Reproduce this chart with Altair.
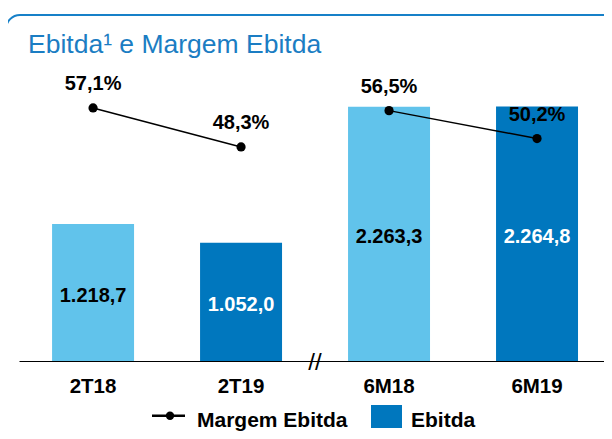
import altair as alt
import pandas as pd

FONT = "Liberation Sans"

# ---- data -------------------------------------------------------------
categorias = ["2T18", "2T19", "6M18", "6M19"]
ebitda = [1218.7, 1052.0, 2263.3, 2264.8]
ebitda_rotulos = ["1.218,7", "1.052,0", "2.263,3", "2.264,8"]
margem = [57.1, 48.3, 56.5, 50.2]
margem_rotulos = ["57,1%", "48,3%", "56,5%", "50,2%"]
anos = ["2018", "2019", "2018", "2019"]
grupos = ["trimestre", "trimestre", "semestre", "semestre"]
titulo = "Ebitda\u00b9 e Margem Ebitda"
legenda = ["Margem Ebitda", "Ebitda"]

cores_barras = ["#61C3EB", "#0077BE"]
cores_rotulo = {"2018": "#000000", "2019": "#FFFFFF"}

df = pd.DataFrame({
    "categoria": categorias,
    "ebitda": ebitda,
    "ebitda_rotulo": ebitda_rotulos,
    "margem": margem,
    "margem_rotulo": margem_rotulos,
    "ano": anos,
    "grupo": grupos,
})
df["cor_rotulo"] = df["ano"].map(cores_rotulo)

um = pd.DataFrame({"k": [0]})

# ---- encodings --------------------------------------------------------
x_enc = alt.X(
    "categoria:N",
    sort=categorias,
    scale=alt.Scale(paddingInner=0.446, paddingOuter=0.1995, align=0.56),
    axis=alt.Axis(
        title=None, labelAngle=0, labelFont=FONT, labelFontSize=20.5,
        labelFontWeight="bold", labelColor="#000000", domainColor="#000000",
        domainWidth=1.2, ticks=False, labelPadding=15, grid=False,
    ),
)
esc_barra = alt.Scale(domain=[0, 2671], nice=False, zero=True)
esc_linha = alt.Scale(domain=[0, 67.7], nice=False, zero=True)

base = alt.Chart(df)

barras = base.mark_bar().encode(
    x=x_enc,
    y=alt.Y("ebitda:Q", scale=esc_barra, axis=None),
    color=alt.Color("ano:N", scale=alt.Scale(domain=["2018", "2019"], range=cores_barras), legend=None),
)

rot_barras = base.transform_calculate(meio="datum.ebitda / 2").mark_text(
    font=FONT, fontSize=20, fontWeight="bold", baseline="middle", dy=3.5
).encode(
    x=x_enc,
    y=alt.Y("meio:Q", scale=esc_barra, axis=None),
    text="ebitda_rotulo:N",
    color=alt.Color("cor_rotulo:N", scale=None),
)

linha = base.mark_line(color="#000000", strokeWidth=1.5).encode(
    x=x_enc,
    y=alt.Y("margem:Q", scale=esc_linha, axis=None),
    detail="grupo:N",
)

pontos = base.mark_point(filled=True, size=85, color="#000000", opacity=1).encode(
    x=x_enc,
    y=alt.Y("margem:Q", scale=esc_linha, axis=None),
)

rot_margem = base.mark_text(
    font=FONT, fontSize=20, fontWeight="bold", baseline="middle", dy=-24, color="#000000"
).encode(
    x=x_enc,
    y=alt.Y("margem:Q", scale=esc_linha, axis=None),
    text="margem_rotulo:N",
)

# ---- decorations (frame, title, axis break, legend) -------------------
borda = alt.Chart(um).mark_rect(
    cornerRadius=14, fillOpacity=0, strokeWidth=2,
    stroke=alt.Gradient(
        gradient="linear", x1=0, x2=0, y1=0, y2=1,
        stops=[
            alt.GradientStop(offset=0, color="#1680C8"),
            alt.GradientStop(offset=0.35, color="#38B3E8"),
            alt.GradientStop(offset=1, color="#3FDBBF"),
        ],
    ),
).encode(x=alt.value(-13), x2=alt.value(610), y=alt.value(-46), y2=alt.value(380))

titulo_txt = alt.Chart(um).mark_text(
    font=FONT, fontSize=26.5, align="left", baseline="alphabetic", color="#1B7DC3"
).encode(x=alt.value(9), y=alt.value(-8), text=alt.value(titulo))

quebra = alt.Chart(um).mark_text(
    font=FONT, fontSize=24, align="center", baseline="middle", color="#000000"
).encode(x=alt.value(296), y=alt.value(302), text=alt.value("//"))

leg_linha = alt.Chart(um).mark_rule(color="#000000", strokeWidth=2.6).encode(
    x=alt.value(133), x2=alt.value(166), y=alt.value(354.7)
)
leg_ponto = alt.Chart(um).mark_point(filled=True, size=70, color="#000000", opacity=1).encode(
    x=alt.value(151), y=alt.value(354.7)
)
leg_txt1 = alt.Chart(um).mark_text(
    font=FONT, fontSize=21, fontWeight="bold", align="left", baseline="middle", color="#000000"
).encode(x=alt.value(178), y=alt.value(359.8), text=alt.value(legenda[0]))
leg_quad = alt.Chart(um).mark_rect(color=cores_barras[1]).encode(
    x=alt.value(352), x2=alt.value(383), y=alt.value(344), y2=alt.value(367)
)
leg_txt2 = alt.Chart(um).mark_text(
    font=FONT, fontSize=21, fontWeight="bold", align="left", baseline="middle", color="#000000"
).encode(x=alt.value(392), y=alt.value(359.8), text=alt.value(legenda[1]))

chart = alt.layer(
    borda, titulo_txt, barras, rot_barras, linha, pontos, rot_margem,
    quebra, leg_linha, leg_ponto, leg_txt1, leg_quad, leg_txt2,
).resolve_scale(y="independent").properties(
    width=585, height=300,
    autosize=alt.AutoSizeParams(type="none"),
    padding={"left": 11, "top": 53, "right": 0, "bottom": 70},
    background="#FFFFFF",
).configure_view(stroke=None)

chart.save("out.html", embed_options={"renderer": "svg", "actions": False})
